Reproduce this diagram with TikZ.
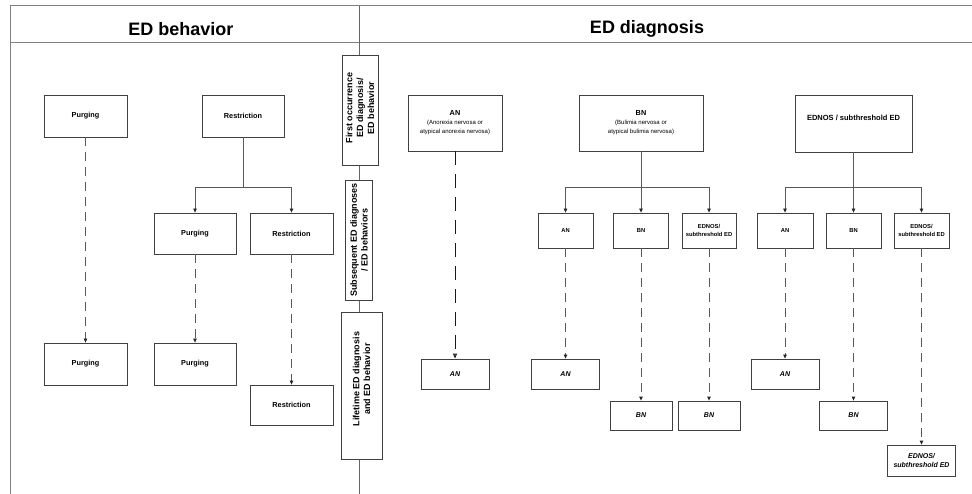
\documentclass[tikz,border=0pt]{standalone}
\usepackage{fontspec}
\setmainfont{Liberation Sans}
\usetikzlibrary{arrows.meta,calc}
\newcommand\mysubf{\fontsize{6}{9}\selectfont\mdseries}
\begin{document}
\begin{tikzpicture}[x=1pt,y=-1pt,
  frame/.style={draw=black!50, line width=1pt},
  box/.style={draw=black!75, line width=0.8pt, fill=white, inner sep=1pt, align=center,
    font=\fontsize{7.3}{9}\selectfont\bfseries},
  cbox/.style={box, font=\fontsize{5.8}{7.2}\selectfont\bfseries},
  ibox/.style={box, font=\fontsize{7}{8.6}\selectfont\bfseries\itshape},
  vbox/.style={box, rotate=90},
  vlbl/.style={rotate=90, align=center, inner sep=0pt, font=\fontsize{9}{10.8}\selectfont\bfseries},
  link/.style={draw=black!65, line width=0.8pt},
  arr/.style={link, -{Triangle[length=4pt,width=3.5pt,color=black!85]}},
  darr/.style={arr, dash pattern=on 9pt off 6pt},
  hdr/.style={font=\fontsize{18}{20}\selectfont\bfseries, inner sep=0pt},
]
\useasboundingbox (0,0) rectangle (972,494);
\fill[white] (0,0) rectangle (972,494);

% frame
\draw[frame] (10,494) -- (10,6) -- (972,6);
\draw[frame] (10,43) -- (972,43);
\draw[frame, draw=black!60] (359,6) -- (359,494);

\node[hdr] (h1) at (181,29) {ED behavior};
\node[hdr] (h2) at (647,29) {ED diagnosis};

% middle column
\node[vbox, minimum width=110pt, minimum height=36pt] (f1) at (360,110) {};
\node[vlbl] (f1t) at (360,108) {First occurrence\\ED diagnosis/\\ED behavior};
\node[vbox, minimum width=120pt, minimum height=27pt] (f2) at (359,240) {};
\node[vlbl] (f2t) at (f2) {Subsequent ED diagnoses\\/ ED behaviors};
\node[vbox, minimum width=147pt, minimum height=41pt] (f3) at (361.5,385.5) {};
\node[vlbl] (f3t) at (361.5,379) {Lifetime ED diagnosis\\and ED behavior};

% left: ED behavior
\node[box, minimum width=83pt, minimum height=42pt] (pur1) at (85.5,116) {Purging};
\node[box, minimum width=82pt, minimum height=42pt] (res1) at (243,116) {Restriction};
\node[box, minimum width=82pt, minimum height=41pt] (pur2) at (195,233.5) {Purging};
\node[box, minimum width=83pt, minimum height=41pt] (res2) at (291.5,233.5) {Restriction};
\node[box, minimum width=83pt, minimum height=42pt] (pur3) at (85.5,364) {Purging};
\node[box, minimum width=82pt, minimum height=42pt] (pur4) at (195,364) {Purging};
\node[box, minimum width=83pt, minimum height=40pt] (res3) at (291.5,405) {Restriction};

\draw[darr] (pur1.south) -- (pur3.north);
\draw[link] (res1.south) -- (243,187) coordinate (rb);
\draw[arr] (rb) -| (pur2.north);
\draw[arr] (rb) -| (res2.north);
\draw[darr] (pur2.south) -- (pur4.north);
\draw[darr] (res2.south) -- (res3.north);

% right: ED diagnosis, top row
\node[box, minimum width=94pt, minimum height=56pt] (anT) at (455,123)
  {AN\\{\mysubf (Anorexia nervosa or}\\{\mysubf atypical anorexia nervosa)}};
\node[box, minimum width=124pt, minimum height=56pt] (bnT) at (641,123)
  {BN\\{\mysubf (Bulimia nervosa or}\\{\mysubf atypical bulimia nervosa)}};
\node[box, minimum width=117pt, minimum height=57pt] (edT) at (853.5,123.5) {};
\node[font=\fontsize{7.5}{9}\selectfont\bfseries, inner sep=0pt] (edTt) at (853.5,117.5) {EDNOS / subthreshold ED};

% children
\node[cbox, minimum width=55pt, minimum height=35pt] (anC1) at (565.5,230.5) {AN};
\node[cbox, minimum width=55pt, minimum height=35pt] (bnC1) at (641,230.5) {BN};
\node[cbox, minimum width=54pt, minimum height=35pt] (edC1) at (709,230.5) {EDNOS/\\subthreshold ED};
\node[cbox, minimum width=56pt, minimum height=35pt] (anC2) at (785,230.5) {AN};
\node[cbox, minimum width=55pt, minimum height=35pt] (bnC2) at (853.5,230.5) {BN};
\node[cbox, minimum width=55pt, minimum height=35pt] (edC2) at (921.5,230.5) {EDNOS/\\subthreshold ED};

% bottom row
\node[ibox, minimum width=68pt, minimum height=30pt] (anB0) at (455,374) {AN};
\node[ibox, minimum width=68pt, minimum height=30pt] (anB1) at (565.5,374) {AN};
\node[ibox, minimum width=62pt, minimum height=29pt] (bnB1) at (641,415.5) {BN};
\node[ibox, minimum width=62pt, minimum height=29pt] (bnB2) at (709,415.5) {BN};
\node[ibox, minimum width=68pt, minimum height=30pt] (anB2) at (785,374) {AN};
\node[ibox, minimum width=68pt, minimum height=29pt] (bnB3) at (853.5,415.5) {BN};
\node[ibox, minimum width=68pt, minimum height=31pt] (edB) at (921.5,460.5) {EDNOS/\\subthreshold ED};

% connectors
\draw[link, draw=black!90, line width=0.95pt, dash pattern=on 14pt off 9pt,
  -{Triangle[open,length=5pt,width=4pt]}] (anT.south) -- (anB0.north);

\draw[link] (bnT.south) -- (641,187) coordinate (bb);
\draw[arr] (bb) -| (anC1.north);
\draw[arr] (bb) -- (bnC1.north);
\draw[arr] (bb) -| (edC1.north);

\draw[link] (edT.south) -- (853.5,187) coordinate (eb);
\draw[arr] (eb) -| (anC2.north);
\draw[arr] (eb) -- (bnC2.north);
\draw[arr] (eb) -| (edC2.north);

\draw[darr] (anC1.south) -- (anB1.north);
\draw[darr] (bnC1.south) -- (bnB1.north);
\draw[darr] (edC1.south) -- (bnB2.north);
\draw[darr] (anC2.south) -- (anB2.north);
\draw[darr] (bnC2.south) -- (bnB3.north);
\draw[darr] (edC2.south) -- (edB.north);
\end{tikzpicture}
\end{document}
